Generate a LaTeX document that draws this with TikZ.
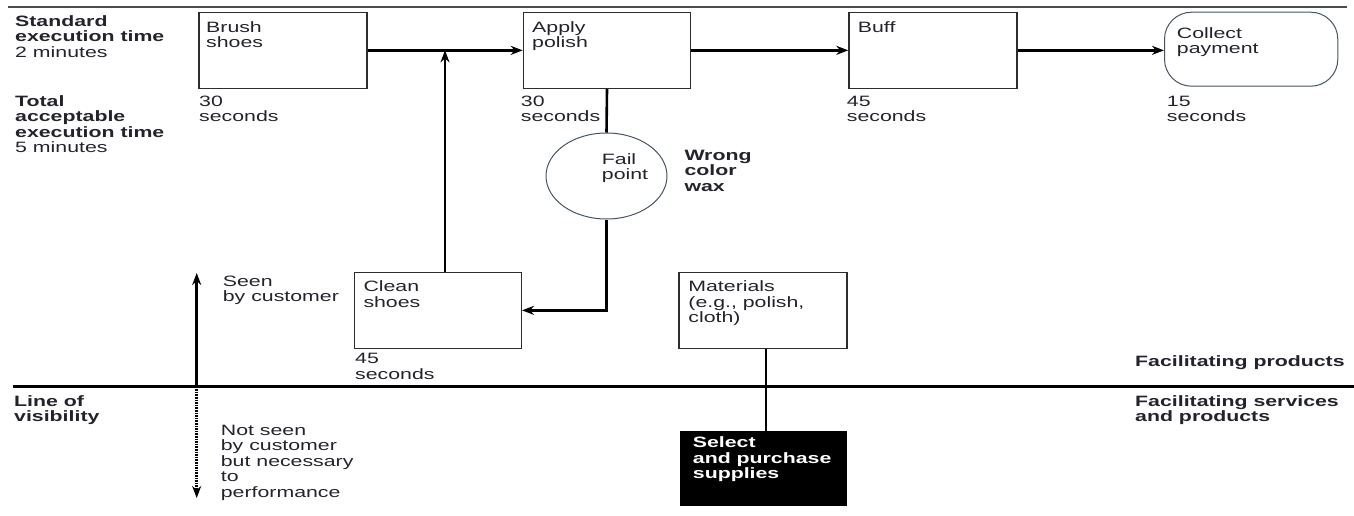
\documentclass[tikz,border=0pt]{standalone}
\usepackage{fontspec}
\setmainfont{Liberation Sans}[FakeStretch=1.42]
\usetikzlibrary{arrows.meta,shapes.geometric}
\definecolor{txt}{RGB}{35,35,45}
\definecolor{edge}{RGB}{45,45,45}
\definecolor{soft}{RGB}{70,85,100}
\begin{document}
\begin{tikzpicture}[x=1pt,y=-1pt,
  % anchor = baseline of the LAST line of the text
  lbl/.style={anchor=base west, align=left, inner sep=0pt, text=txt, font=\fontsize{15}{15.5}\selectfont},
  blbl/.style={lbl, font=\fontsize{15}{15.5}\selectfont\bfseries},
  box/.style={draw=edge, line width=1.3pt, minimum width=168pt, minimum height=76pt, anchor=north west, inner sep=0pt},
  conn/.style={line width=2.6pt, draw=black},
  arr/.style={conn, -{Stealth[length=12pt,width=9pt]}},
]
\useasboundingbox (0,0) rectangle (1354,516);

% frame lines
\draw[line width=1.8pt, draw=black!70] (8,6.7) -- (1347,6.7);
\draw[line width=2.5pt] (12.7,386.5) -- (1354,386.5);

% boxes
\node[box] (brush) at (198.3,11.7) {};
\node[box, minimum width=167.3pt] (apply) at (522.7,11.7) {};
\node[box] (buff) at (848.3,11.7) {};
\node[draw=soft, line width=1pt, rounded corners=27pt, minimum width=173.3pt, minimum height=74pt, anchor=north west, inner sep=0pt] (collect) at (1164,11.7) {};
\node[box, minimum width=166.7pt] (clean) at (354,271.7) {};
\node[box] (mat) at (678.3,271.7) {};
\node[box, fill=black, draw=black, minimum width=166pt, minimum height=73.6pt] (sel) at (680,430.7) {};
\node[draw=soft, line width=1pt, ellipse, minimum width=121pt, minimum height=86pt, inner sep=0pt] (fp) at (606.5,176) {};

% box texts
\node[lbl] (brushT) at (206,47.8) {Brush\\shoes};
\node[lbl] (applyT) at (532,47.8) {Apply\\polish};
\node[lbl] (buffT) at (857.7,32.3) {Buff};
\node[lbl] (collectT) at (1176.7,53.8) {Collect\\payment};
\node[lbl] (cleanT) at (363.3,307.2) {Clean\\shoes};
\node[lbl] (matT) at (688.2,322.7) {Materials\\(e.g., polish,\\cloth)};
\node[blbl, text=white] (selT) at (692.7,478.5) {Select\\and purchase\\supplies};
\node[lbl] (fpT) at (601.7,179.7) {Fail\\point};
\node[blbl] (wrong) at (684.3,191) {Wrong\\color\\wax};

% times
\node[lbl] (t1) at (199,121.6) {30\\seconds};
\node[lbl] (t2) at (520.7,121.6) {30\\seconds};
\node[lbl] (t3) at (846.7,121.6) {45\\seconds};
\node[lbl] (t4) at (1166.7,121.6) {15\\seconds};
\node[lbl] (t5) at (355,379) {45\\seconds};

% side texts
\node[blbl] (std) at (15,57.5) {Standard\\execution time\\\mdseries 2 minutes};
\node[blbl] (tot) at (15,153) {Total\\acceptable\\execution time\\\mdseries 5 minutes};
\node[blbl] (lov) at (14,421.6) {Line of\\visibility};
\node[lbl] (seen) at (222.7,301.5) {Seen\\by customer};
\node[lbl] (notseen) at (220.7,497) {Not seen\\by customer\\but necessary\\to\\performance};
\node[blbl] (fprod) at (1135,366) {Facilitating products};
\node[blbl] (fserv) at (1135,421.5) {Facilitating services\\and products};

% connectors
\draw[arr] (brush.east) -- (apply.west);
\draw[arr] (apply.east) -- (buff.west);
\draw[arr] (buff.east) -- (buff.east -| collect.west);
\draw[arr] ([xshift=7pt]clean.north) -- ([xshift=7pt]clean.north |- brush.east);
\draw[conn] (apply.south) -- (fp.north);
\draw[arr] (fp.south) |- (clean.east);
\draw[conn] ([xshift=3pt]mat.south) -- ([xshift=3pt]mat.south |- sel.north);

% visibility arrows
\coordinate (vis) at (196.7,386.5);
\coordinate (up) at (196.7,273);
\coordinate (down) at (196.7,498);
\draw[arr] (vis) -- (up);
\draw[arr, dash pattern=on 1.6pt off 1pt] (vis) -- (down);
\end{tikzpicture}
\end{document}
